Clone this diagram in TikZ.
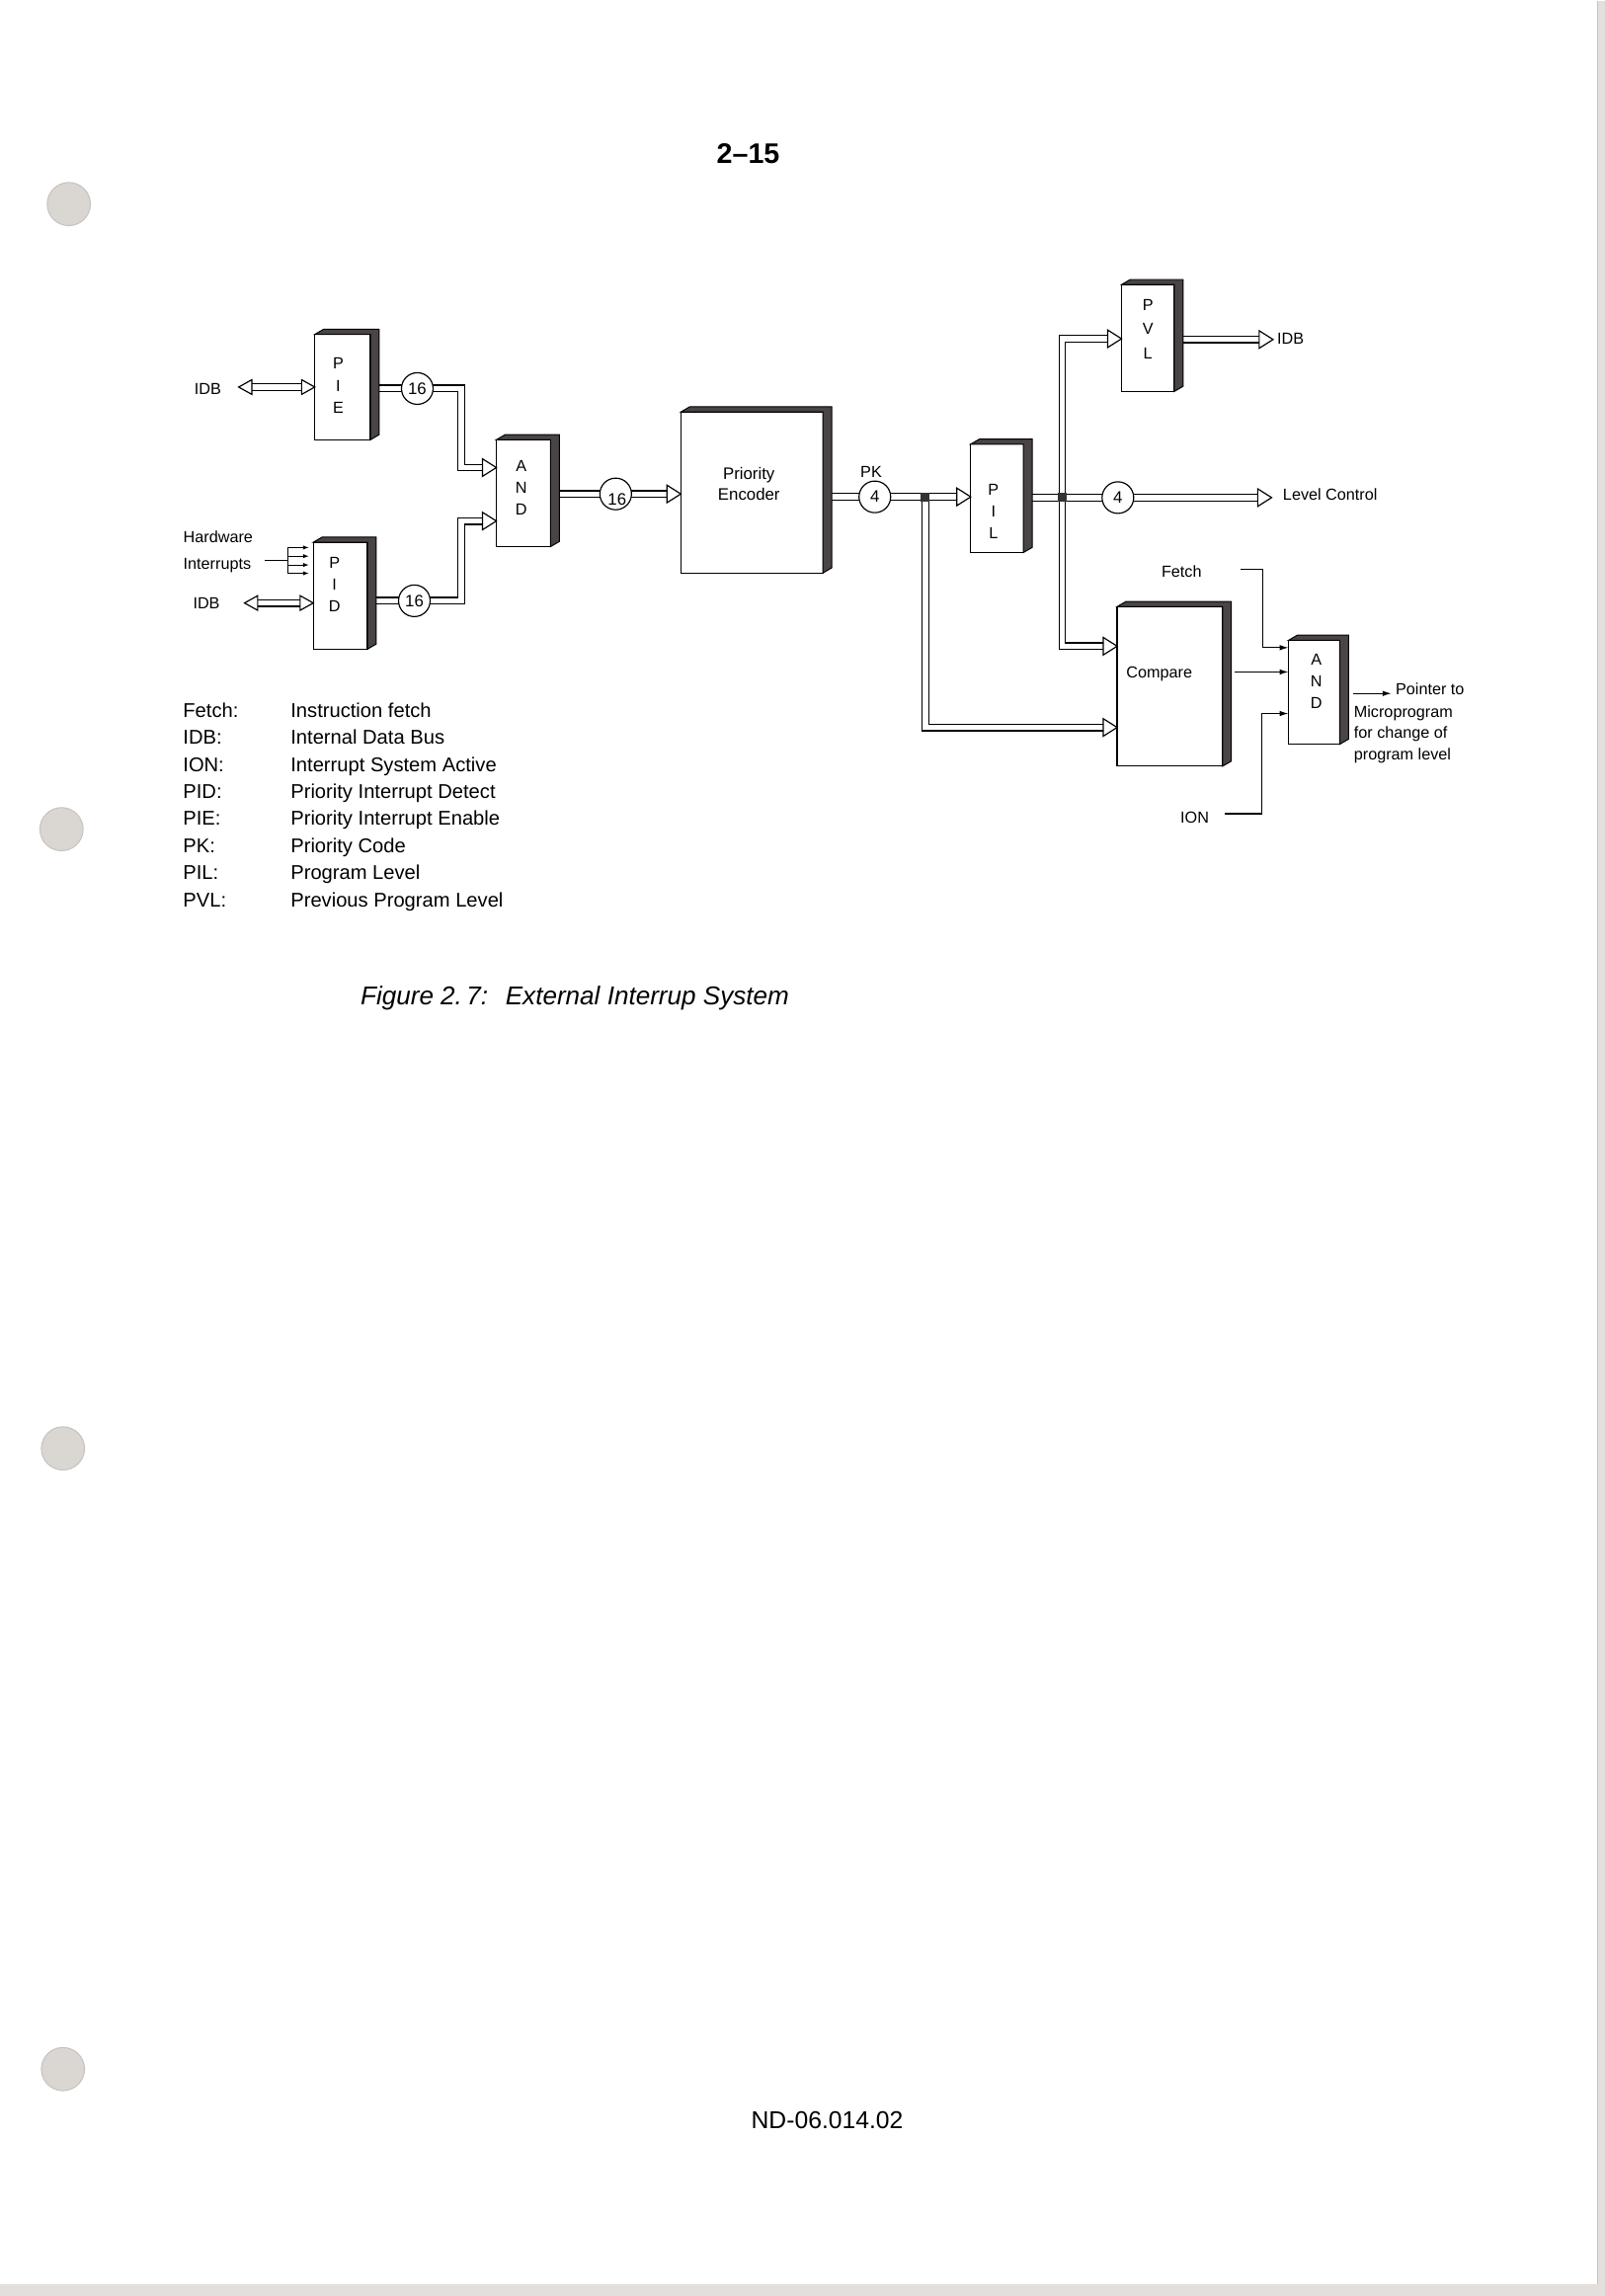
\documentclass[tikz,border=0pt]{standalone}
\usepackage{fontspec}
\setmainfont{Liberation Sans}
\usetikzlibrary{arrows.meta,calc}
\pgfdeclarelayer{bg}
\pgfdeclarelayer{busl}
\pgfsetlayers{bg,busl,main}
\definecolor{holegray}{HTML}{DAD7D3}
\definecolor{holerim}{HTML}{C6C2BE}
\definecolor{edgegray}{HTML}{E2DFDC}
\definecolor{shadegray}{HTML}{4A4444}
\newcommand\dgfont{\fontsize{8.2}{11.2}\selectfont}
\newcommand\legfont{\fontsize{10.2}{12}\selectfont}
\tikzset{
  blk/.style 2 args={draw, line width=0.6pt, fill=white, minimum width=#1*0.75pt, minimum height=#2*0.75pt, inner sep=0pt, outer sep=0pt},
  shadefill/.style={fill=shadegray, draw=black, line width=0.5pt, line join=miter},
  bus/.style={draw=black, line width=0.65pt, double=white, double distance=2.7pt, line join=miter},
  tipst/.style={fill=white, draw=black, line width=0.6pt, line join=miter},
  ring/.style={draw, circle, fill=white, line width=0.6pt, minimum size=21.6*0.75pt, inner sep=0pt, font=\fontsize{8.5}{10}\selectfont},
  wire/.style={draw, line width=0.6pt},
  sarrow/.style={-{Latex[length=4.5pt,width=2.8pt]}},
  hwarrow/.style={-{Latex[length=3pt,width=2.2pt]}},
  lbl/.style={font=\dgfont, inner sep=0pt},
  stack/.style={font=\dgfont, align=center, inner sep=0pt},
  leg/.style={font=\legfont, inner sep=0pt, anchor=base west},
  capt/.style={font=\fontsize{13.2}{15}\selectfont\itshape, inner sep=0pt, anchor=base west},
  jsq/.style={fill=black!80, minimum size=6*0.75pt, inner sep=0pt},
  hole/.style={circle, minimum size=29.5*0.75pt, inner sep=0pt, fill=holegray, draw=holerim, line width=0.5pt}
}
\newcommand\shadeblk[1]{%
  \filldraw[shadefill] (#1.north west) -- ++(6,-3.5) -- ($(#1.north east)+(6,-3.5)$) -- ($(#1.south east)+(6,-3.5)$) -- (#1.south east) -- (#1.north east) -- cycle;}
\newcommand\tipR[1]{\draw[tipst] #1 -- ++(-9.5,-6) -- ++(0,12) -- cycle;}
\newcommand\tipRs[1]{\draw[tipst] #1 -- ++(-9,-5) -- ++(0,10) -- cycle;}
\newcommand\tipLs[1]{\draw[tipst] #1 -- ++(9,-5) -- ++(0,10) -- cycle;}
\begin{document}
\begin{tikzpicture}[x=0.75pt,y=-0.75pt]
\begin{pgfonlayer}{bg}
  \fill[white] (0,0) rectangle (1096,1568);
  \fill[edgegray] (1091,0) rectangle (1096,1568);
  \draw[holerim, line width=0.6pt] (1091,0) -- (1091,1560);
  \fill[edgegray] (0,1560) rectangle (1096,1568);
\end{pgfonlayer}
\useasboundingbox (0,0) rectangle (1096,1568);

% punch holes
\foreach \hx/\hy/\hn in {47/139/h1, 42/566/h2, 43/989/h3, 43/1413/h4}
  \node[hole] (\hn) at (\hx,\hy) {};

% page number
\node[font=\fontsize{14.5}{16}\selectfont\bfseries, anchor=base, inner sep=0pt] (pg) at (511,111.3) {2--15};

% blocks
\node[blk={38}{72}] (pie) at (234,264) {};
\node[blk={37}{73}] (pid) at (232.5,406.5) {};
\node[blk={37}{73}] (and1) at (357.5,336.5) {};
\node[blk={97}{110}] (enc) at (513.5,336) {};
\node[blk={36}{74}] (pil) at (681,340) {};
\node[blk={36}{73}] (pvl) at (784,230.5) {};
\node[blk={72}{109}] (cmp) at (799,468.5) {};
\node[blk={35}{71}] (and2) at (897.5,472.5) {};
\foreach \b in {pie,pid,and1,enc,pil,pvl,cmp,and2} \shadeblk{\b};

% block texts
\node[stack] (pieT) at (231,263) {P\\I\\E};
\node[stack] (pidT) at (228.5,399) {P\\I\\D};
\node[stack] (and1T) at (356,333) {A\\N\\D};
\node[stack, font=\fontsize{8.5}{10.5}\selectfont] (encT) at (511.5,330) {Priority\\Encoder};
\node[stack] (pilT) at (678.5,349) {P\\I\\L};
\node[stack, font=\fontsize{8.2}{12.4}\selectfont] (pvlT) at (784,224.5) {P\\V\\L};
\node[lbl, anchor=base west] (cmpT) at (769,462.5) {Compare};
\node[stack] (and2T) at (899,465) {A\\N\\D};

% circles
\node[ring] (c16a) at (285,265) {16};
\node[ring] (c16b) at (283,410) {16};
\node[ring] (c16c) at (420.5,337) {};
\node[inner sep=0pt, font=\fontsize{8.5}{10}\selectfont] (c16cT) at (421.5,341) {16};
\node[ring] (c4a) at (597.5,339) {4};
\node[ring] (c4b) at (763.5,339.5) {4};

% junctions
\node[jsq] (jn1) at (632,339) {};
\node[jsq] (jn2) at (725.5,339.5) {};

% coordinates for bends and free ends
\coordinate (idbAL) at (163,264);
\coordinate (idbBL) at (167,411.5);
\coordinate (k1) at (315,319);
\coordinate (k2) at (315,355.5);
\coordinate (b1) at (631,496.5);
\coordinate (u1) at (725.5,231);
\coordinate (d1) at (725.5,441);
\coordinate (r1) at (869.5,231.5);
\coordinate (lc) at (868.5,339.5);

% buses
\begin{pgfonlayer}{busl}
  \draw[bus] ($(idbAL)+(8,0)$) -- ($(pie.west |- idbAL)+(-8,0)$);
  \draw[bus] ($(idbBL)+(8,0)$) -- ($(pid.west |- idbBL)+(-8,0)$);
  \draw[bus] (pie.east |- c16a.center) -- (c16a.center) -| (k1) -- ($(and1.west |- k1)+(-9,0)$);
  \draw[bus] (pid.east |- c16b.center) -- (c16b.center) -| (k2) -- ($(and1.west |- k2)+(-9,0)$);
  \draw[bus] (and1.east |- c16c.center) -- ($(enc.west |- c16c.center)+(-9,0)$);
  \draw[bus] (enc.east |- c4a.center) -- ($(pil.west |- c4a.center)+(-9,0)$);
  \draw[bus] (jn1.center |- c4a.center) |- ($(cmp.west |- b1)+(-9,0)$);
  \draw[bus] (pil.east |- c4b.center) -- ($(lc)+(-9,0)$);
  \draw[bus] ($(pvl.west |- u1)+(-9,0)$) -- (u1) -- (d1) -- ($(cmp.west |- d1)+(-9,0)$);
  \draw[bus] (pvl.east |- r1) -- ($(r1)+(-9,0)$);
\end{pgfonlayer}

% open arrow tips
\tipLs{(idbAL)}
\tipRs{(pie.west |- idbAL)}
\tipLs{(idbBL)}
\tipRs{(pid.west |- idbBL)}
\tipR{(and1.west |- k1)}
\tipR{(and1.west |- k2)}
\tipR{(enc.west |- c16c.center)}
\tipR{(pil.west |- c4a.center)}
\tipR{(cmp.west |- b1)}
\tipR{(lc)}
\tipR{(pvl.west |- u1)}
\tipR{(cmp.west |- d1)}
\tipR{(r1)}
% redraw junction squares on top
\node[jsq] at (jn1) {};
\node[jsq] at (jn2) {};

% thin control wires
\coordinate (f0) at (847,388.5);
\coordinate (f1) at (862.5,442);
\coordinate (m1) at (843,458.6);
\coordinate (i0) at (836.5,555.5);
\coordinate (i1) at (861.5,487);
\coordinate (o0) at (924.5,473.3);
\coordinate (o1) at (950.3,473.3);
\draw[wire, sarrow] (f0) -| (f1) -- (and2.west |- f1);
\draw[wire, sarrow] (m1) -- (and2.west |- m1);
\draw[wire, sarrow] (i0) -| (i1) -- (and2.west |- i1);
\draw[wire, sarrow] (o0) -- (o1);

% hardware interrupts
\coordinate (hw0) at (181,382.2);
\coordinate (hw1) at (196.7,382.2);
\draw[wire] (hw0) -- (hw1);
\draw[wire] (196.7,373.6) -- (196.7,391.2);
\foreach \yy in {373.6,379.5,385.5,391.2}
  \draw[line width=0.5pt, hwarrow] (196.7,\yy) -- (211,\yy);

% diagram labels
\node[lbl, anchor=base] (idbA) at (142,269) {IDB};
\node[lbl, anchor=base] (idbB) at (141,415.5) {IDB};
\node[lbl, anchor=base west] (hwA) at (125,370) {Hardware};
\node[lbl, anchor=base west] (hwB) at (125,388.5) {Interrupts};
\node[lbl, anchor=base] (pk) at (595,326) {PK};
\node[lbl, anchor=base west] (idbC) at (872,234.5) {IDB};
\node[lbl, anchor=base west] (lvc) at (876,341) {Level Control};
\node[lbl, anchor=base] (fetch) at (807,394) {Fetch};
\node[lbl, anchor=base] (ion) at (816,562) {ION};
\node[lbl, anchor=base west] (pt1) at (953,474) {Pointer to};
\node[lbl, anchor=base west] (pt2) at (924.5,489.5) {Microprogram};
\node[lbl, anchor=base west] (pt3) at (924.5,504) {for change of};
\node[lbl, anchor=base west] (pt4) at (924.5,518.5) {program level};

% legend
\foreach \k/\v/\yy/\n in {Fetch:/Instruction fetch/489.5/1, IDB:/Internal Data Bus/508/2, ION:/Interrupt System Active/526.5/3, PID:/Priority Interrupt Detect/545/4, PIE:/Priority Interrupt Enable/563.5/5, PK:/Priority Code/582/6, PIL:/Program Level/600.5/7, PVL:/Previous Program Level/619/8}
{
  \node[leg] (lk\n) at (124.8,\yy) {\k};
  \node[leg] (lv\n) at (198.3,\yy) {\v};
}

% caption
\node[capt] (cap1) at (246,686) {Figure 2.\,7:};
\node[capt] (cap2) at (345,686) {External Interrup System};

% footer
\node[font=\fontsize{12.5}{14}\selectfont, anchor=base, inner sep=0pt] (nd) at (565,1453.4) {ND-06.014.02};
\end{tikzpicture}
\end{document}
